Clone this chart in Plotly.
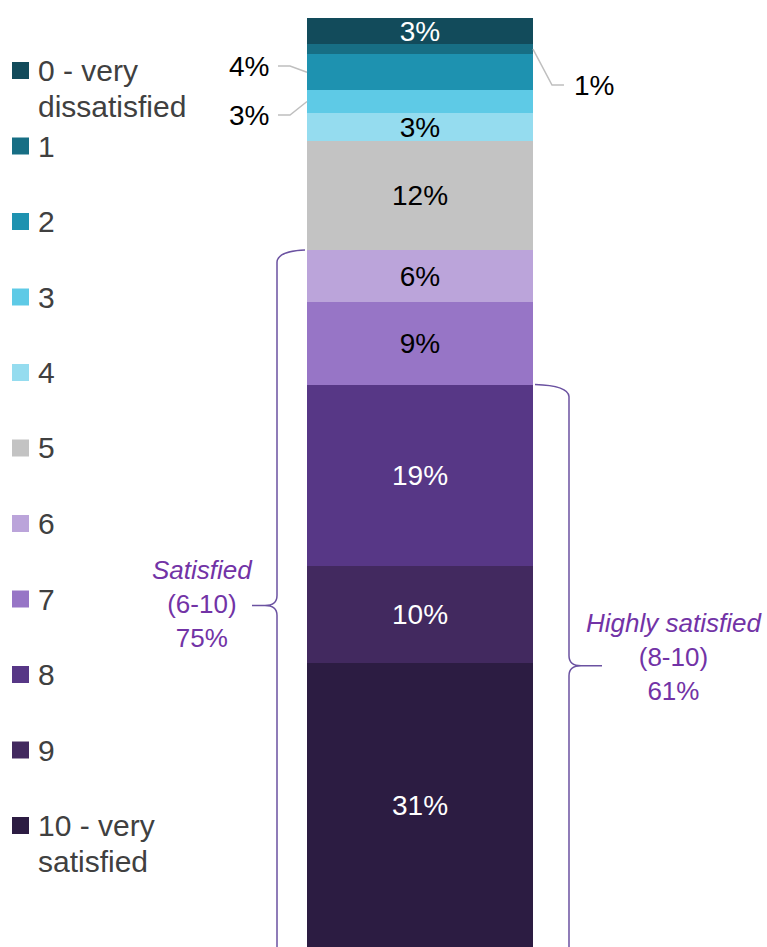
import plotly.graph_objects as go

# ---- data (top of bar to bottom) ----
categories = ["0 - very dissatisfied", "1", "2", "3", "4", "5", "6", "7", "8", "9", "10 - very satisfied"]
legend_lines = [["0 - very", "dissatisfied"], ["1"], ["2"], ["3"], ["4"], ["5"], ["6"], ["7"], ["8"], ["9"], ["10 - very", "satisfied"]]
values = [2.8, 1.1, 3.9, 2.4, 3.0, 11.8, 5.6, 8.9, 19.5, 10.5, 30.6]
labels = ["3%", "1%", "4%", "3%", "3%", "12%", "6%", "9%", "19%", "10%", "31%"]
colors = ["#124b5b", "#176e84", "#1e92b0", "#5ecae6", "#95dcef", "#c3c3c3",
          "#bba4da", "#9775c6", "#573786", "#42295f", "#2c1c42"]
label_colors = ["white", "black", "black", "black", "black", "black",
                "black", "black", "white", "white", "white"]
outside_label = [False, True, True, True, False, False, False, False, False, False, False]

group_names = ["Satisfied", "Highly satisfied"]
group_ranges = ["(6-10)", "(8-10)"]
group_pcts = ["75%", "61%"]
group_first_index = [6, 8]   # groups run from this category to 10

# ---- geometry ----
W, H = 767, 947
PLOT_TOP = 18
PLOT_H = H - PLOT_TOP
total = sum(values)
BAR_L, BAR_R = 307, 533
FONT = "Liberation Sans, Arial, sans-serif"
PURPLE_TXT = "#7233a6"
PURPLE_LINE = "#6b52a1"

# x axis: bar at x=0, width=1 -> spans BAR_L..BAR_R pixels
span = W / (BAR_R - BAR_L)
x0 = -0.5 - BAR_L / (BAR_R - BAR_L)
xrange = [x0, x0 + span]

def px_of_value(v):
    """pixel y of cumulative data value v (0 at bottom)"""
    return H - v / total * PLOT_H

def P(x, y):
    return f"{x / W:.5f},{1 - y / H:.5f}"

# cumulative bounds for each category (stacked from bottom: 10 first)
cum_bottom = {}
acc = 0.0
for i in range(len(values) - 1, -1, -1):
    cum_bottom[i] = acc
    acc += values[i]

def seg_center_px(i):
    return px_of_value(cum_bottom[i] + values[i] / 2)

fig = go.Figure()
for i in range(len(values) - 1, -1, -1):
    fig.add_trace(go.Bar(
        x=[0], y=[values[i]], width=1, name=categories[i],
        marker=dict(color=colors[i], line=dict(width=0)),
        text=["" if outside_label[i] else labels[i]],
        textposition="inside", insidetextanchor="middle", textangle=0,
        textfont=dict(family=FONT, size=28, color=label_colors[i]),
        hoverinfo="skip", showlegend=False,
    ))

shapes = []
annotations = []

# ---- manual legend ----
for i, lines in enumerate(legend_lines):
    cy = 70.5 + 75.5 * i
    shapes.append(dict(type="rect", xref="paper", yref="paper",
                       x0=12 / W, x1=29 / W, y0=1 - (cy - 8.5) / H, y1=1 - (cy + 8.5) / H,
                       fillcolor=colors[i], line=dict(width=0)))
    for k, t in enumerate(lines):
        ly = cy + 35.7 * k
        annotations.append(dict(xref="paper", yref="paper", x=36 / W, y=1 - ly / H,
                                xanchor="left", yanchor="middle", text=t, showarrow=False,
                                font=dict(family=FONT, size=30, color="#404040")))

# ---- leader lines and outside labels ----
LEADER = "#bfbfbf"
c1, c2, c3 = seg_center_px(1), seg_center_px(2), seg_center_px(3)
shapes.append(dict(type="path", xref="paper", yref="paper",
                   path=f"M{P(278, 66)} L{P(290, 66)} L{P(BAR_L, c2)}",
                   line=dict(color=LEADER, width=1.5)))
shapes.append(dict(type="path", xref="paper", yref="paper",
                   path=f"M{P(278, 115)} L{P(290, 115)} L{P(BAR_L, c3)}",
                   line=dict(color=LEADER, width=1.5)))
shapes.append(dict(type="path", xref="paper", yref="paper",
                   path=f"M{P(BAR_R, c1)} L{P(552, 85)} L{P(564, 85)}",
                   line=dict(color=LEADER, width=1.5)))
for txt, x, y, anc in [(labels[2], 271, 67, "right"), (labels[3], 271, 115, "right"),
                       (labels[1], 572, 86, "left")]:
    annotations.append(dict(xref="paper", yref="paper", x=x / W, y=1 - y / H,
                            xanchor=anc, yanchor="middle", text=txt, showarrow=False,
                            font=dict(family=FONT, size=28, color="black")))

# ---- brackets ----
# left bracket (Satisfied)
top_l = px_of_value(cum_bottom[group_first_index[0]] + values[group_first_index[0]])
tip_l = (top_l + H) / 2 + 7
xv = 277
shapes.append(dict(type="path", xref="paper", yref="paper",
                   path=(f"M{P(BAR_L - 2, top_l)} Q{P(xv + 1, top_l + 1)} {P(xv, top_l + 12)} "
                         f"L{P(xv, tip_l - 10)} Q{P(xv, tip_l)} {P(xv - 12, tip_l)} L{P(252, tip_l)} "
                         f"M{P(xv - 12, tip_l)} Q{P(xv, tip_l)} {P(xv, tip_l + 10)} L{P(xv, H + 5)}"),
                   line=dict(color=PURPLE_LINE, width=1.5)))
# right bracket (Highly satisfied)
top_r = px_of_value(cum_bottom[group_first_index[1]] + values[group_first_index[1]])
tip_r = (top_r + H) / 2
xv = 569
shapes.append(dict(type="path", xref="paper", yref="paper",
                   path=(f"M{P(BAR_R + 2, top_r)} Q{P(xv - 1, top_r + 1)} {P(xv, top_r + 12)} "
                         f"L{P(xv, tip_r - 10)} Q{P(xv, tip_r)} {P(xv + 12, tip_r)} L{P(602, tip_r)} "
                         f"M{P(xv + 12, tip_r)} Q{P(xv, tip_r)} {P(xv, tip_r + 10)} L{P(xv, H + 5)}"),
                   line=dict(color=PURPLE_LINE, width=1.5)))

for g, (cx, cy) in enumerate([(203, 603.5), (674, 657)]):
    annotations.append(dict(xref="paper", yref="paper", x=cx / W, y=1 - cy / H,
                            xanchor="center", yanchor="middle", align="center",
                            text=f"<i>{group_names[g]}</i><br>{group_ranges[g]}<br>{group_pcts[g]}",
                            showarrow=False,
                            font=dict(family=FONT, size=26, color=PURPLE_TXT)))

fig.update_layout(
    width=W, height=H,
    margin=dict(l=0, r=0, t=0, b=0),
    paper_bgcolor="white", plot_bgcolor="white",
    barmode="stack", bargap=0,
    showlegend=False,
    xaxis=dict(range=xrange, visible=False, fixedrange=True),
    yaxis=dict(range=[0, total], domain=[0, PLOT_H / H], visible=False, fixedrange=True),
    uniformtext=dict(minsize=28, mode="show"),
    shapes=shapes, annotations=annotations,
    hovermode=False,
)

fig.write_html("out.html", config={"displayModeBar": False})
